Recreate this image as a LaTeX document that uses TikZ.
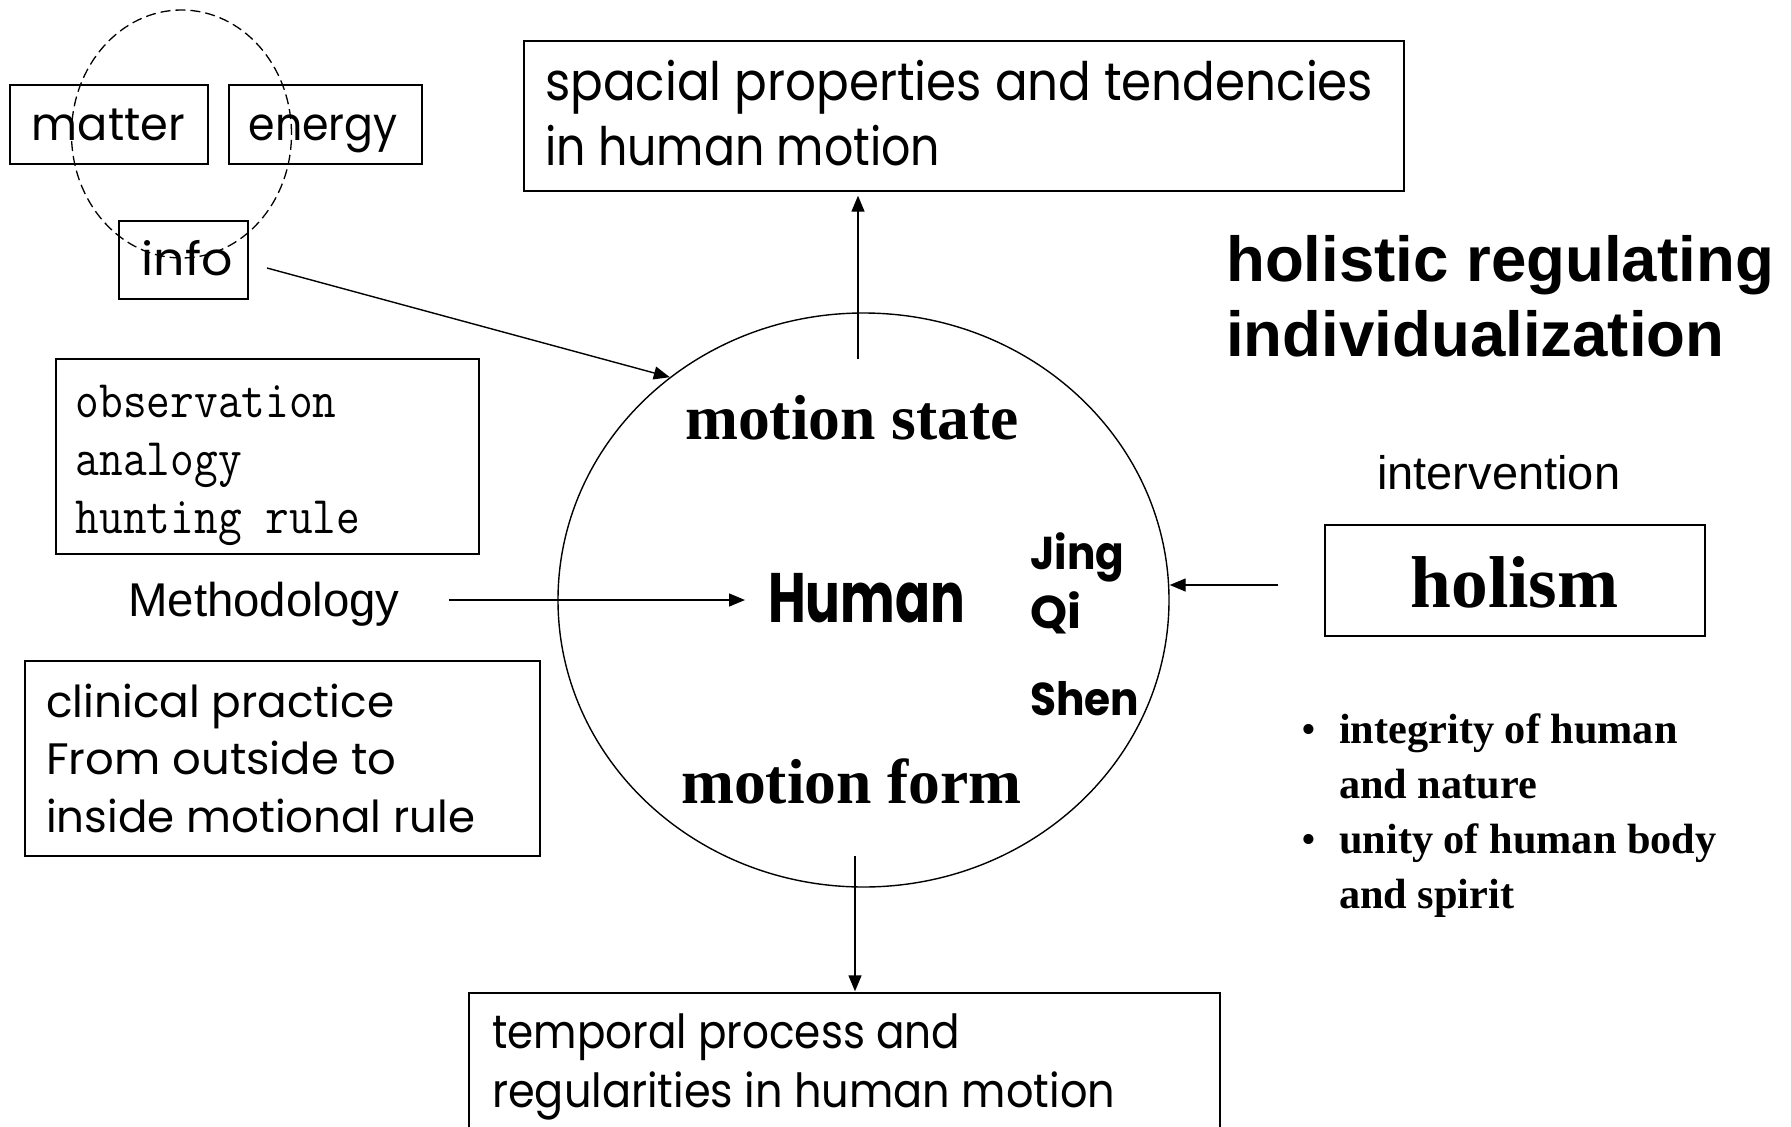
\documentclass[tikz,border=0pt]{standalone}
\usepackage{fontspec}
\usepackage{graphicx}
\setmainfont{Liberation Serif}
\newfontfamily\comicf{Poppins}
\newfontfamily\arialf{Liberation Sans}
\usetikzlibrary{shapes.geometric,arrows.meta,fit}
\newcommand{\sqz}[2]{\resizebox{#1}{\height}{#2}}
\newcommand{\rows}[1]{\begin{tabular}[t]{@{}l@{}}#1\end{tabular}}
\newcommand{\tallmono}[1]{\scalebox{1}[1.15]{#1}}
\begin{document}
\begin{tikzpicture}[x=1pt,y=-1pt,
  box/.style={draw, line width=1.4pt, inner sep=0pt},
  txt/.style={inner sep=0pt, anchor=base west},
  ctxt/.style={inner sep=0pt, anchor=base},
  arr/.style={line width=1.4pt, -{Triangle[length=16pt,width=13pt]}},
  ]
\useasboundingbox (0,0) rectangle (1791,1127);

% boxes
\node[box, fit={(10,85) (208,164)}] (matterbox) {};
\node[box, fit={(229,85) (422,164)}] (energybox) {};
\node[box, fit={(119,221) (248,299)}] (infobox) {};
\node[box, fit={(524,41) (1404,191)}] (spatialbox) {};
\node[box, fit={(56,359) (479,554)}] (obsbox) {};
\node[box, fit={(25,661) (540,856)}] (clinbox) {};
\node[box, fit={(1325,525) (1705,636)}] (holismbox) {};
\node[box, fit={(469,993) (1220,1160)}] (tempbox) {};

% ellipses
\node[draw, ellipse, line width=1.4pt, minimum width=611pt, minimum height=574pt, inner sep=0pt] (circ) at (863.5,600) {};
\node[draw, ellipse, line width=1.3pt, dash pattern=on 10pt off 5pt, minimum width=220pt, minimum height=248pt, inner sep=0pt] (mei) at (181.5,134) {};

% small comic texts
\node[txt, font=\comicf\fontsize{46}{50}\selectfont] (matter) at (31.7,140) {\sqz{153pt}{matter}};
\node[txt, font=\comicf\fontsize{46}{50}\selectfont] (energy) at (248.5,140) {\sqz{149pt}{energy}};
\node[txt, font=\comicf\fontsize{46}{50}\selectfont] (info) at (141.7,275) {\sqz{91pt}{info}};

\node[txt, font=\comicf\fontsize{53}{65}\selectfont] (spatial) at (545,100)
  {\rows{\sqz{828pt}{spacial properties and tendencies}\\\sqz{395pt}{in human motion}}};
\node[txt, font=\comicf\fontsize{47}{59}\selectfont] (temporal) at (492,1048)
  {\rows{\sqz{468pt}{temporal process and}\\\sqz{623pt}{regularities in human motion}}};
\node[txt, font=\comicf\fontsize{44}{57.5}\selectfont] (clinical) at (46,717)
  {\rows{\sqz{348pt}{clinical practice}\\\sqz{350pt}{From outside to}\\\sqz{429pt}{inside motional rule}}};

\node[txt, font=\ttfamily\fontsize{46}{57.8}\selectfont] (obs) at (75.7,417.4)
  {\rows{\tallmono{observation}\\\tallmono{analogy}\\\tallmono{hunting rule}}};

\node[txt, font=\arialf\fontsize{47.4}{55}\selectfont] (meth) at (128,616) {Methodology};
\node[txt, font=\arialf\fontsize{47}{55}\selectfont] (interv) at (1377,489) {intervention};
\node[txt, font=\arialf\bfseries\fontsize{63.6}{75}\selectfont] (holistic) at (1226,281)
  {\rows{holistic regulating\\individualization}};

\node[ctxt, font=\bfseries\fontsize{63.6}{70}\selectfont] (mstate) at (852,439) {motion state};
\node[ctxt, font=\bfseries\fontsize{63.6}{70}\selectfont] (mform) at (851.5,803) {motion form};
\node[ctxt, font=\bfseries\fontsize{73.4}{80}\selectfont] (holism) at (1514.5,607) {holism};

\node[txt, font=\comicf\bfseries\fontsize{70}{72}\selectfont] (human) at (768,622) {\sqz{197pt}{Human}};
\node[txt, font=\comicf\bfseries\fontsize{46}{50}\selectfont] (jing) at (1030,569) {\sqz{94pt}{Jing}};
\node[txt, font=\comicf\bfseries\fontsize{46}{50}\selectfont] (qi) at (1030,628) {\sqz{51pt}{Qi}};
\node[txt, font=\comicf\bfseries\fontsize{46}{50}\selectfont] (shen) at (1030,715) {\sqz{109pt}{Shen}};

\node[txt, font=\bfseries\fontsize{42.3}{55}\selectfont] (bullets) at (1339,743)
  {\rows{integrity of human\\and nature\\unity of human body\\and spirit}};
\node[ctxt, font=\fontsize{42.3}{55}\selectfont] (b1) at (1309,743) {•};
\node[ctxt, font=\fontsize{42.3}{55}\selectfont] (b2) at (1309,853) {•};

% connectors
\coordinate (infoout) at (267,268);
\draw[arr] (infoout) -- (circ.131.3);
\coordinate (upst) at (858,359);
\draw[arr, shorten >=4pt] (upst) -- (upst |- spatialbox.south);
\coordinate (dnst) at (855,856);
\draw[arr, shorten >=1pt] (dnst) -- (dnst |- tempbox.north);
\draw[arr, shorten <=49pt, shorten >=23pt] (meth.east |- circ.center) -- (human.west |- circ.center);
\coordinate (hin) at (1278,585);
\draw[arr] (hin) -- (hin -| circ.east);
\end{tikzpicture}
\end{document}
